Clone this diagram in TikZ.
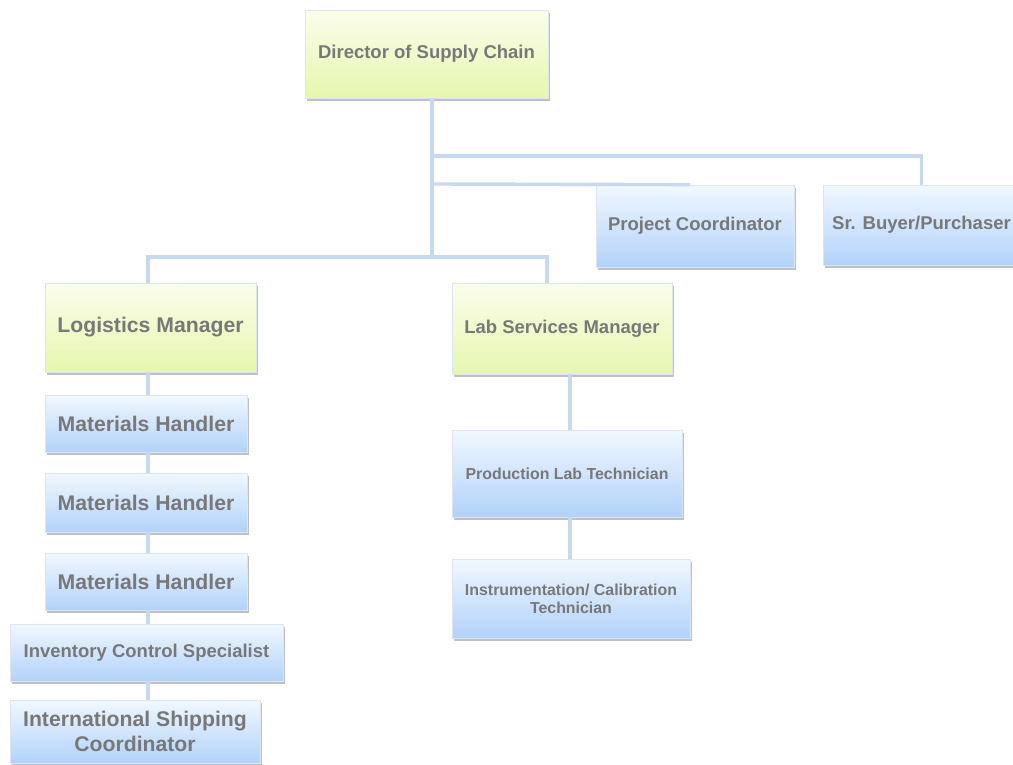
\documentclass[tikz,border=0pt]{standalone}
\usepackage{fontspec}
\setmainfont{Liberation Sans}
\usetikzlibrary{shadows}
\definecolor{txtgray}{HTML}{787878}
\definecolor{greentop}{HTML}{FBFDEC}
\definecolor{greenbot}{HTML}{E6F7AE}
\definecolor{bluetop}{HTML}{F1F8FF}
\definecolor{bluebot}{HTML}{B2D2FA}
\definecolor{linkblue}{HTML}{C7D9EF}
\definecolor{edge}{HTML}{DCE5F0}
\newcommand{\fbig}{\fontsize{21.2}{24.4}\selectfont\bfseries}
\newcommand{\fmid}{\fontsize{18.5}{21.3}\selectfont\bfseries}
\newcommand{\fsml}{\fontsize{15.9}{18.3}\selectfont\bfseries}
\tikzset{
  orgbox/.style={draw=edge, line width=0.8pt, inner sep=0pt, align=center,
    text=txtgray, drop shadow={shadow xshift=1.5pt, shadow yshift=-3pt, opacity=0.45, fill=black!55}},
  greenbox/.style={orgbox, top color=greentop, bottom color=greenbot},
  bluebox/.style={orgbox, top color=bluetop, bottom color=bluebot},
  link/.style={draw=linkblue, line width=3.4pt}
}
\begin{document}
\begin{tikzpicture}[x=1pt, y=-1pt]
    \useasboundingbox (0,0) rectangle (1013,764);

    %%%%% CONNECTORS %%%%%
    \coordinate (trunk) at (432,0);
    \coordinate (barA) at (0,156);
    \coordinate (barB) at (0,184);
    \coordinate (barC) at (0,257);
    \coordinate (lspine) at (148,0);
    \coordinate (rspine) at (570,0);
    \coordinate (labdrop) at (547,0);
    \coordinate (projend) at (690,0);

    %%%%% TOP %%%%%
    \node[greenbox, font=\fmid, minimum width=243, minimum height=88] (dir) at (426.5,54) {Director of Supply Chain};

    \node[bluebox, font=\fmid, minimum width=198, minimum height=82] (proj) at (695,226) {Project Coordinator};
    \node[bluebox, font=\fmid, minimum width=197, minimum height=80] (buyer) at (921.5,225) {Sr. Buyer/Purchaser};

    %%%%% LOGISTICS %%%%%
    \node[greenbox, font=\fbig, minimum width=211, minimum height=89] (log) at (150.5,327.5) {Logistics Manager};
    \node[bluebox, font=\fbig, minimum width=202, minimum height=57] (mh1) at (146,423.5) {Materials Handler};
    \node[bluebox, font=\fbig, minimum width=202, minimum height=59] (mh2) at (146,502.5) {Materials Handler};
    \node[bluebox, font=\fbig, minimum width=202, minimum height=57] (mh3) at (146,581.5) {Materials Handler};
    \node[bluebox, font=\fmid, minimum width=273, minimum height=57] (inv) at (146.5,652.5) {Inventory Control Specialist};
    \node[bluebox, font=\fbig, minimum width=250, minimum height=63] (intl) at (135,731.5) {International Shipping\\Coordinator};

    %%%%% LAB %%%%%
    \node[greenbox, font=\fmid, minimum width=220, minimum height=91] (lab) at (562,328.5) {Lab Services Manager};
    \node[bluebox, font=\fsml, minimum width=230, minimum height=87] (prod) at (567,473.5) {Production Lab Technician};
    \node[bluebox, font=\fsml, minimum width=238, minimum height=79] (instr) at (571,598.5) {Instrumentation/ Calibration\\Technician};

    %%%%% LINKS %%%%%
    \draw[link] (trunk |- dir.south) -- (trunk |- barC);
    \draw[link] (trunk |- barA) -| (buyer.north);
    \draw[link] (trunk |- barB) -- (projend |- proj.north);
    \draw[link] (lspine |- log.north) |- (labdrop |- barC) -- (labdrop |- lab.north);

    \draw[link] (lspine |- log.south) -- (lspine |- mh1.north);
    \draw[link] (lspine |- mh1.south) -- (lspine |- mh2.north);
    \draw[link] (lspine |- mh2.south) -- (lspine |- mh3.north);
    \draw[link] (lspine |- mh3.south) -- (lspine |- inv.north);
    \draw[link] (lspine |- inv.south) -- (lspine |- intl.north);

    \draw[link] (rspine |- lab.south) -- (rspine |- prod.north);
    \draw[link] (rspine |- prod.south) -- (rspine |- instr.north);
\end{tikzpicture}
\end{document}
